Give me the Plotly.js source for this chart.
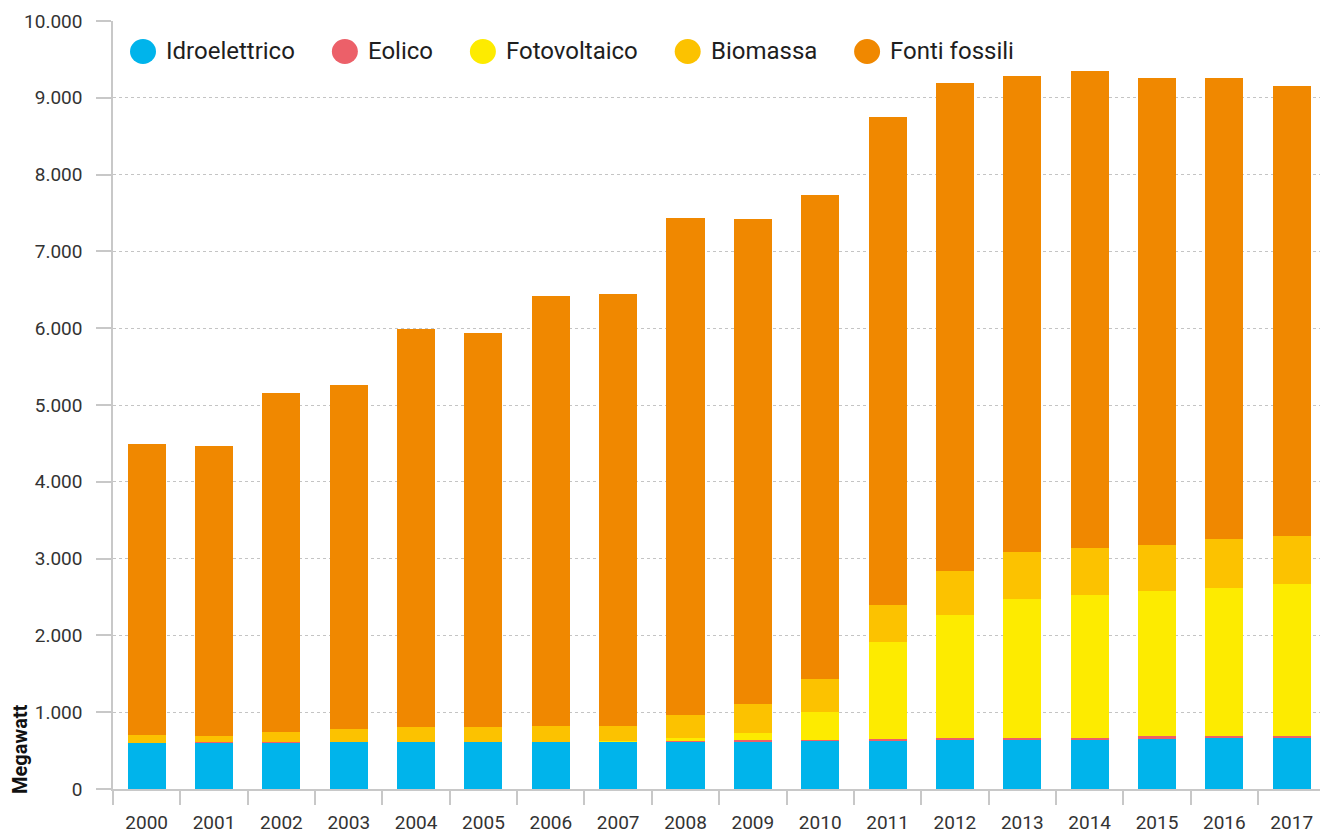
<!DOCTYPE html>
<html>
<head>
<meta charset="utf-8">
<script src="https://cdn.plot.ly/plotly-3.0.1.min.js"></script>
<style>
  html, body { margin: 0; padding: 0; background: #fff; }
  #chart { width: 1320px; height: 836px; }
</style>
</head>
<body>
<div id="chart"></div>
<script>
// ---- Data (Megawatt) ----
const years = ['2000','2001','2002','2003','2004','2005','2006','2007','2008','2009','2010','2011','2012','2013','2014','2015','2016','2017'];
const idroelettrico = [600,600,600,615,615,615,615,615,615,615,625,625,640,650,650,650,665,665];
const eolico        = [0,15,15,0,0,0,0,0,5,20,15,25,25,15,15,40,25,25];
const fotovoltaico  = [0,0,0,0,0,0,0,10,40,95,365,1265,1600,1810,1860,1890,1925,1980];
const biomassa      = [105,75,125,165,190,190,205,195,300,375,425,480,575,610,615,595,640,625];
const fontiFossili  = [3785,3775,4415,4480,5185,5130,5600,5625,6475,6315,6305,6355,6355,6200,6210,6085,6005,5860];

const seriesNames  = ['Idroelettrico','Eolico','Fotovoltaico','Biomassa','Fonti fossili'];
const seriesValues = [idroelettrico, eolico, fotovoltaico, biomassa, fontiFossili];
const seriesColors = ['#00B4EB','#EC6069','#FDEB00','#FCC200','#F08800'];

const yAxisTitle = 'Megawatt';

// ---- Layout constants ----
const W = 1320, H = 836;
const M = {l: 113, r: 0, t: 21, b: 47};
const plotW = W - M.l - M.r, plotH = H - M.t - M.b;
const FONT = 'Roboto, "Noto Sans", sans-serif';

const traces = seriesNames.map((name, i) => ({
  type: 'bar',
  name: name,
  x: years,
  y: seriesValues[i],
  marker: {color: seriesColors[i], line: {width: 0}},
  showlegend: false,
  hovertemplate: '%{x}: %{y:,.0f} MW<extra>' + name + '</extra>'
}));

// ---- Custom legend (circles + labels) ----
const canvas = document.createElement('canvas');
const ctx = canvas.getContext('2d');
ctx.font = '24px Roboto';
const shapes = [];
const annotations = [];
const legendY = 51.5;                       // px from top
const legendYPaper = 1 - (legendY - M.t) / plotH;
let cx = 143;                               // px, first circle centre
seriesNames.forEach((name, i) => {
  shapes.push({
    type: 'circle', xref: 'paper', yref: 'paper',
    xsizemode: 'pixel', ysizemode: 'pixel',
    xanchor: (cx - M.l) / plotW, yanchor: legendYPaper,
    x0: -13, x1: 13, y0: -12.5, y1: 12.5,
    fillcolor: seriesColors[i], line: {width: 0}
  });
  const tx = cx + 21;
  annotations.push({
    xref: 'paper', yref: 'paper',
    x: (tx - M.l) / plotW, y: legendYPaper,
    xanchor: 'left', yanchor: 'middle',
    text: name, showarrow: false,
    font: {family: FONT, size: 24, color: '#1e1e1e'}
  });
  const tw = ctx.measureText(name).width;
  cx = tx + tw + 52;
});

annotations.push({
  xref: 'paper', yref: 'paper',
  x: (20 - M.l) / plotW, y: (789 - 749) / plotH,
  xanchor: 'center', yanchor: 'middle',
  text: '<b>' + yAxisTitle + '</b>', textangle: -90, showarrow: false,
  font: {family: FONT, size: 20, color: '#111'}
});

const layout = {
  width: W, height: H, autosize: false,
  margin: M,
  paper_bgcolor: '#fff', plot_bgcolor: '#fff',
  separators: ',.',
  barmode: 'stack',
  bargap: 0.435,
  showlegend: false,
  font: {family: FONT, color: '#333'},
  xaxis: {
    type: 'category',
    range: [-0.5, 17.42],
    showline: true, linecolor: '#c8c8c8', linewidth: 1.5,
    ticks: 'outside', tickson: 'boundaries', ticklen: 14, tickcolor: '#c8c8c8', tickwidth: 1.5,
    ticklabelstandoff: 15,
    tickfont: {family: FONT, size: 19, color: '#333'},
    showgrid: false, fixedrange: true
  },
  yaxis: {
    range: [0, 10000], dtick: 1000, tick0: 0,
    tickformat: ',.0f',
    showline: true, linecolor: '#c8c8c8', linewidth: 1.5,
    ticks: 'outside', ticklen: 15, tickcolor: '#c8c8c8', tickwidth: 1.5,
    ticklabelstandoff: 10,
    tickfont: {family: FONT, size: 19, color: '#333'},
    showgrid: true, gridcolor: '#c4c4c4', griddash: 'dot', gridwidth: 1,
    zeroline: false, fixedrange: true
  },
  shapes: shapes,
  annotations: annotations
};

Plotly.newPlot('chart', traces, layout, {displayModeBar: false, staticPlot: false});
</script>
</body>
</html>
